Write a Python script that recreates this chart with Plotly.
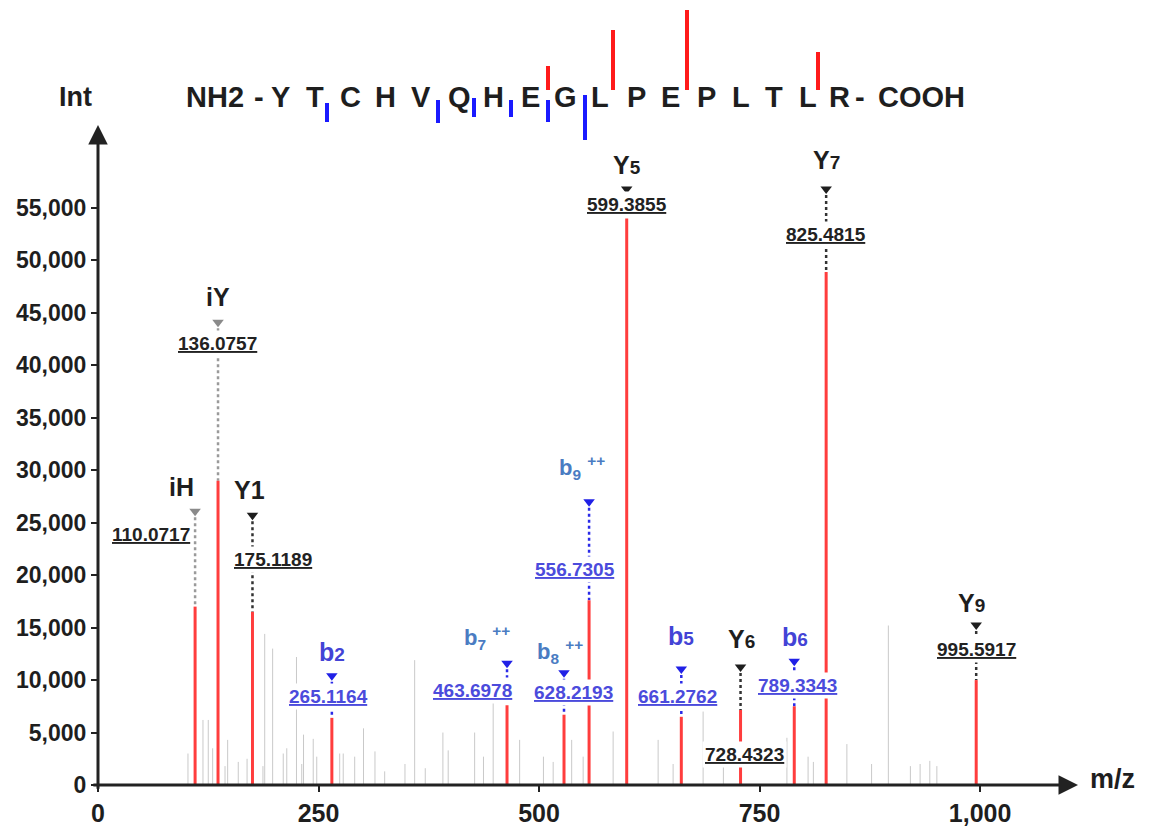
import plotly.graph_objects as go

# ---------------- data ----------------
ion_names = ["iH", "iY", "Y1", "b2", "b7++", "b8++", "b9++", "Y5", "b5", "Y6", "b6", "Y7", "Y9"]
ion_labels = ["110.0717", "136.0757", "175.1189", "265.1164", "463.6978", "628.2193",
              "556.7305", "599.3855", "661.2762", "728.4323", "789.3343", "825.4815", "995.5917"]
ion_mz = [110.07, 136.08, 175.12, 265.12, 463.70, 528.3, 556.73, 599.39, 661.28, 728.43, 789.33, 825.48, 995.59]
ion_int = [17000, 29000, 16500, 6400, 7600, 6700, 17600, 54000, 6500, 7150, 7500, 48900, 10000]
ion_type = ["i", "i", "y", "b", "b2", "b2", "b2", "y", "b", "y", "b", "y", "y"]

bg_mz = [102, 119, 125, 130, 144, 147, 159, 169, 187, 189, 198, 210, 214, 225, 231, 233, 244, 248,
         274, 278, 291, 301, 314, 325, 348, 359, 371, 391, 397, 427, 437, 448, 478, 505, 516, 537,
         550, 584, 635, 652, 686, 709, 781, 805, 811, 849, 877, 896, 921, 932, 943, 951]
bg_int = [3000, 6200, 6200, 3500, 1800, 4300, 2200, 2500, 1800, 14400, 13000, 3000, 3500, 12200, 2000,
          4800, 4400, 2700, 3000, 3000, 2700, 5400, 3200, 1300, 2000, 11900, 1600, 5000, 3300, 5000,
          2700, 8000, 4300, 2700, 2200, 4300, 2700, 5100, 4300, 2000, 7000, 1800, 4500, 2700, 2200,
          3900, 2000, 15200, 1800, 2000, 2300, 1800]

x_ticks = [0, 250, 500, 750, 1000]
y_ticks = [0, 5000, 10000, 15000, 20000, 25000, 30000, 35000, 40000, 45000, 50000, 55000]

seq_tokens = ["NH2", "-", "Y", "T", "C", "H", "V", "Q", "H", "E", "G", "L", "P", "E", "P", "L", "T", "L", "R", "-", "COOH"]

# ---------------- layout helpers (positions, not data) ----------------
W, H = 1155, 830
L, R, T, B = 98, 77, 125, 45
PW, PH = W - L - R, H - T - B
X_MAX, Y_MAX = 1111, 62900

def px_x(px):
    return (px - L) / PW

def px_y(py):
    return (H - B - py) / PH

seq_px = [215, 259, 280, 315, 350, 385, 421, 459, 493, 530, 565, 600, 636, 670, 706, 741, 774, 808, 839, 860, 921]
seq_py = 97

# cleavage marks (pixel x, top y, bottom y)
b_marks = [(327, 103, 122), (438, 100, 123), (474, 98, 117), (511, 100, 117), (548, 100, 122), (585, 95, 140)]
y_marks = [(548, 66, 90), (613, 30, 90), (687, 10, 90), (818, 52, 90)]

# annotation positions in data units
name_x = [95, 136, 172, 265, 441, 524, 549, 600, 661, 729, 790, 825.4, 990]
name_y = [28400, 46500, 28100, 12700, 14100, 12700, 30300, 59100, 14200, 13900, 14100, 59600, 17350]
tri_y = [26100, 44100, 25700, 10400, 11600, 10700, 27000, 56800, 11050, 11250, 11800, 56800, 15250]
lab_x = [60, 136, 198.4, 261, 425, 538.5, 541, 599.4, 656.5, 732.4, 792.5, 825.5, 995.5]
lab_y = [23900, 42100, 21450, 8400, 9050, 8770, 20500, 55300, 8400, 2950, 9450, 52500, 12960]

STY = {
    "i": dict(name="#1e1e1e", lab="#222222", tri="#8a8a8a", dot="#9a9a9a"),
    "y": dict(name="#1e1e1e", lab="#222222", tri="#1e1e1e", dot="#333333"),
    "b": dict(name="#4343d6", lab="#4b4bdc", tri="#2020e6", dot="#2a2ae8"),
    "b2": dict(name="#4a7cc2", lab="#4b4bdc", tri="#2020e6", dot="#2a2ae8"),
}

def fmt_name(n):
    if n.endswith("++"):
        base = n[:-2]
        return "b<sub>%s</sub> <sup>++</sup>" % base[1:]
    if n in ("iH", "iY", "Y1"):
        return n
    return "%s<span style='font-size:19px'>%s</span>" % (n[0], n[1:])

FONT = "Arial, 'Liberation Sans', sans-serif"

fig = go.Figure()

# background peaks
bx, by = [], []
for m, v in zip(bg_mz, bg_int):
    bx += [m, m, None]
    by += [0, v, None]
fig.add_trace(go.Scatter(x=bx, y=by, mode="lines", line=dict(color="#c9c9c9", width=1),
                         hoverinfo="skip", showlegend=False))

# connectors (dotted)
for t in STY:
    cx, cy = [], []
    for m, v, ty, tt in zip(ion_mz, ion_int, tri_y, ion_type):
        if tt == t:
            cx += [m, m, None]
            cy += [ty, v, None]
    fig.add_trace(go.Scatter(x=cx, y=cy, mode="lines",
                             line=dict(color=STY[t]["dot"], width=2.5, dash="dot"),
                             hoverinfo="skip", showlegend=False))

# matched peaks
rx, ry = [], []
for m, v in zip(ion_mz, ion_int):
    rx += [m, m, None]
    ry += [0, v, None]
fig.add_trace(go.Scatter(x=rx, y=ry, mode="lines", line=dict(color="#ff3d3d", width=3),
                         hoverinfo="skip", showlegend=False))

# triangles
for t in STY:
    tx = [m for m, tt in zip(ion_mz, ion_type) if tt == t]
    tyy = [y for y, tt in zip(tri_y, ion_type) if tt == t]
    fig.add_trace(go.Scatter(x=tx, y=tyy, mode="markers",
                             marker=dict(symbol="triangle-down", size=10, color=STY[t]["tri"]),
                             hoverinfo="skip", showlegend=False))

ann = []
for i, n in enumerate(ion_names):
    s = STY[ion_type[i]]
    nsize = 22 if ion_type[i] == "b2" else 25
    ann.append(dict(x=name_x[i], y=name_y[i], xref="x", yref="y", text="<b>%s</b>" % fmt_name(n),
                    showarrow=False, xanchor="center", yanchor="middle",
                    font=dict(family=FONT, size=nsize, color=s["name"])))
    ann.append(dict(x=lab_x[i], y=lab_y[i], xref="x", yref="y", text="<b><u>%s</u></b>" % ion_labels[i],
                    showarrow=False, bgcolor="white", borderpad=2, xanchor="center", yanchor="middle",
                    font=dict(family=FONT, size=19, color=s["lab"])))

# axes arrows
ann.append(dict(x=X_MAX, y=0, ax=-7, ay=0, xref="x", yref="y", axref="x", ayref="y", text="",
                showarrow=True, arrowhead=2, arrowsize=1.3, arrowwidth=3, arrowcolor="#222"))
ann.append(dict(x=0, y=Y_MAX, ax=0, ay=-500, xref="x", yref="y", axref="x", ayref="y", text="",
                showarrow=True, arrowhead=2, arrowsize=1.3, arrowwidth=3, arrowcolor="#222"))

ann.append(dict(x=px_x(75), y=px_y(97), xref="paper", yref="paper", text="<b>Int</b>", showarrow=False,
                xanchor="center", yanchor="middle",
                font=dict(family=FONT, size=27, color="#1e1e1e")))
ann.append(dict(x=px_x(1112), y=px_y(779), xref="paper", yref="paper", text="<b>m/z</b>", showarrow=False,
                xanchor="center", yanchor="middle",
                font=dict(family=FONT, size=27, color="#1e1e1e")))

for tok, p in zip(seq_tokens, seq_px):
    ann.append(dict(x=px_x(p), y=px_y(seq_py), xref="paper", yref="paper", text="<b>%s</b>" % tok,
                    showarrow=False, xanchor="center", yanchor="middle",
                    font=dict(family=FONT, size=29, color="#1e1e1e")))

shapes = []
for x0, y0, y1 in b_marks:
    shapes.append(dict(type="line", xref="paper", yref="paper", x0=px_x(x0), x1=px_x(x0),
                       y0=px_y(y0), y1=px_y(y1), line=dict(color="#1a1aff", width=4)))
for x0, y0, y1 in y_marks:
    shapes.append(dict(type="line", xref="paper", yref="paper", x0=px_x(x0), x1=px_x(x0),
                       y0=px_y(y0), y1=px_y(y1), line=dict(color="#ff1a1a", width=4)))

fig.update_layout(
    width=W, height=H,
    margin=dict(l=L, r=R, t=T, b=B, autoexpand=False),
    paper_bgcolor="white", plot_bgcolor="white",
    annotations=ann, shapes=shapes, showlegend=False,
    xaxis=dict(range=[0, X_MAX], tickvals=x_ticks, tickformat=",", ticks="outside", ticklen=6,
               tickwidth=2, tickcolor="#222", showgrid=False, zeroline=False, showline=False,
               automargin=False,
               tickfont=dict(family=FONT, size=25, color="#1e1e1e", weight="bold")),
    yaxis=dict(range=[0, Y_MAX], tickvals=y_ticks, tickformat=",", ticks="outside", ticklen=6,
               tickwidth=2, tickcolor="#222", showgrid=False, zeroline=False, showline=False,
               automargin=False,
               tickfont=dict(family=FONT, size=23, color="#1e1e1e", weight="bold")),
)

fig.write_html("out.html", config={"displayModeBar": False},
               post_script="document.body.style.margin='0';document.body.style.padding='0';")
